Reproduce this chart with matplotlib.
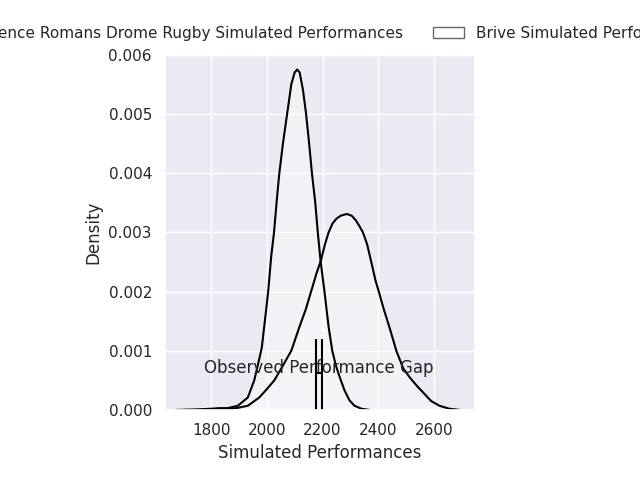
import matplotlib
matplotlib.use("Agg")
import matplotlib.pyplot as plt
import matplotlib.patches as mpatches
import seaborn as sns

# density curves
valence_x = [1674, 1740, 1800, 1830, 1860, 1896, 1932, 1955, 1970, 1982, 1993, 2005,
             2016, 2026, 2036, 2045, 2058, 2073, 2088, 2100, 2109, 2118, 2130, 2141,
             2152, 2162, 2174, 2183, 2193, 2207, 2222, 2235, 2248, 2262, 2279, 2297,
             2315, 2340, 2369]
valence_y = [0.0, 0.000005, 0.00002, 0.00003, 0.00003, 0.00007, 0.00021, 0.0005, 0.0008,
             0.00105, 0.0015, 0.002, 0.0026, 0.003, 0.00355, 0.004, 0.0045, 0.005, 0.0055,
             0.0057, 0.00575, 0.0057, 0.0054, 0.005, 0.0045, 0.004, 0.0035, 0.003, 0.00252,
             0.002, 0.0014, 0.001, 0.00075, 0.00055, 0.00033, 0.00016, 0.00007, 0.00002, 0.0]

brive_x = [1700, 1780, 1880, 1932, 1973, 2000, 2027, 2052, 2070, 2088, 2117, 2140, 2159,
           2178, 2194, 2209, 2222, 2236, 2250, 2265, 2287, 2305, 2320, 2333, 2345, 2360,
           2375, 2390, 2402, 2420, 2440, 2465, 2490, 2513, 2540, 2566, 2590, 2620, 2655, 2693]
brive_y = [0.0, 0.000005, 0.00002, 0.00007, 0.00021, 0.00035, 0.0005, 0.0007, 0.00085,
           0.001, 0.0014, 0.0017, 0.002, 0.0023, 0.00252, 0.0028, 0.003, 0.00315, 0.00323,
           0.00328, 0.00331, 0.00328, 0.0032, 0.0031, 0.003, 0.0028, 0.0025, 0.00219, 0.002,
           0.0017, 0.0014, 0.001, 0.0007, 0.00055, 0.0004, 0.00027, 0.00015, 0.00007,
           0.00002, 0.0]

labels = ["Valence Romans Drome Rugby Simulated Performances", "Brive Simulated Performances"]
gap_left = 2176
gap_right = 2197
gap_height = 0.0012
gap_bar = 0.000625
gap_text = "Observed Performance Gap"

sns.set_theme(style="darkgrid")

fig = plt.figure(figsize=(6.4, 4.8), dpi=100)
ax = fig.add_axes([0.258, 0.146, 0.484, 0.74])

for xs, ys in [(valence_x, valence_y), (brive_x, brive_y)]:
    ax.fill_between(xs, ys, color="white", alpha=0.35, linewidth=0)
    ax.plot(xs, ys, color="black", linewidth=1.5)

ax.vlines([gap_left, gap_right], 0, gap_height, color="black", linewidth=1.5)
ax.hlines(gap_bar, gap_left, gap_right, color="black", linewidth=1.5)
ax.text((gap_left + gap_right) / 2, 0.00055, gap_text, ha="center", va="bottom", fontsize=12,
        color="#262626")

ax.set_xlim(1635, 2747)
ax.set_ylim(0, 0.006)
ax.set_xticks([1800, 2000, 2200, 2400, 2600])
ax.set_xlabel("Simulated Performances", fontsize=12)
ax.set_ylabel("Density", fontsize=12)
ax.tick_params(labelsize=11)

handles = [mpatches.Patch(facecolor="white", edgecolor="0.4", linewidth=1) for _ in labels]
ax.legend(handles, labels, loc="lower center", bbox_to_anchor=(0.5, 1.0), ncol=2,
          frameon=False, fontsize=11, columnspacing=2.0)

fig.savefig("out.png", dpi=100)
